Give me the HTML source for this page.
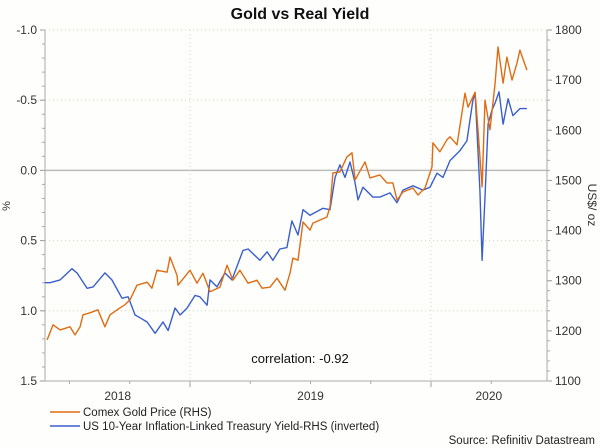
<!DOCTYPE html>
<html><head><meta charset="utf-8"><style>
body{margin:0;background:#fff;}
svg{display:block;font-family:"Liberation Sans",Arial,sans-serif;}
</style></head><body>
<svg id="chart" width="600" height="448" viewBox="0 0 600 448">
<rect width="600" height="448" fill="#fefefc"/>
<text x="300" y="19" text-anchor="middle" font-size="16" font-weight="bold" fill="#111">Gold vs Real Yield</text>
<g id="grid"></g>
<g id="axes"></g>
<g id="series"></g>
<text x="300" y="363" text-anchor="middle" font-size="13" fill="#111">correlation: -0.92</text>
<text transform="translate(10,206) rotate(-90)" text-anchor="middle" font-size="11" fill="#333">%</text>
<text transform="translate(588,205) rotate(90)" text-anchor="middle" font-size="12" fill="#333">US$/ oz</text>
<g>
<line x1="50" y1="412" x2="80" y2="412" stroke="#e06c12" stroke-width="1.5"/>
<text x="83" y="416" font-size="11.5" fill="#222">Comex Gold Price (RHS)</text>
<line x1="50" y1="426" x2="80" y2="426" stroke="#3a5fcd" stroke-width="1.5"/>
<text x="83" y="430" font-size="11.5" fill="#222">US 10-Year Inflation-Linked Treasury Yield-RHS (inverted)</text>
</g>
<text x="595" y="444" text-anchor="end" font-size="11.5" fill="#222">Source: Refinitiv Datastream</text>
</svg>
<script>
const goldDates=[2018.407,2018.432,2018.461,2018.502,2018.523,2018.544,2018.556,2018.585,2018.618,2018.647,2018.668,2018.710,2018.730,2018.751,2018.780,2018.822,2018.842,2018.863,2018.905,2018.917,2018.946,2018.950,2019.000,2019.029,2019.054,2019.083,2019.124,2019.154,2019.178,2019.207,2019.241,2019.278,2019.299,2019.332,2019.361,2019.394,2019.415,2019.427,2019.448,2019.469,2019.498,2019.510,2019.568,2019.581,2019.593,2019.622,2019.651,2019.672,2019.685,2019.726,2019.747,2019.788,2019.817,2019.842,2019.859,2019.884,2019.925,2019.946,2019.975,2020.004,2020.008,2020.037,2020.066,2020.079,2020.108,2020.141,2020.154,2020.183,2020.195,2020.212,2020.224,2020.245,2020.266,2020.278,2020.299,2020.315,2020.336,2020.357,2020.369,2020.398];
const goldValues=[1182,1212,1202,1208,1192,1208,1232,1236,1242,1208,1232,1246,1252,1262,1291,1297,1285,1321,1317,1347,1311,1291,1321,1295,1315,1278,1287,1331,1301,1321,1295,1301,1285,1287,1305,1281,1315,1345,1341,1417,1401,1415,1427,1447,1515,1517,1547,1555,1501,1537,1505,1511,1495,1495,1461,1477,1485,1471,1485,1527,1575,1557,1581,1587,1571,1674,1646,1676,1601,1487,1660,1601,1694,1766,1694,1746,1700,1734,1760,1720];
const yieldDates=[2018.398,2018.419,2018.461,2018.510,2018.531,2018.573,2018.598,2018.647,2018.676,2018.718,2018.743,2018.772,2018.793,2018.822,2018.855,2018.888,2018.909,2018.938,2018.959,2018.988,2019.021,2019.041,2019.071,2019.083,2019.112,2019.145,2019.174,2019.220,2019.241,2019.290,2019.320,2019.344,2019.373,2019.402,2019.423,2019.448,2019.469,2019.498,2019.552,2019.581,2019.602,2019.622,2019.643,2019.664,2019.685,2019.697,2019.718,2019.759,2019.788,2019.830,2019.859,2019.884,2019.925,2019.967,2019.996,2020.025,2020.050,2020.079,2020.120,2020.149,2020.174,2020.183,2020.191,2020.203,2020.212,2020.224,2020.237,2020.253,2020.266,2020.282,2020.299,2020.320,2020.340,2020.369,2020.398];
const yieldValues=[0.80,0.80,0.78,0.70,0.73,0.84,0.83,0.73,0.78,0.91,0.90,1.03,1.05,1.08,1.16,1.08,1.14,0.98,1.03,0.98,0.89,0.90,0.96,0.78,0.83,0.73,0.78,0.57,0.56,0.64,0.58,0.64,0.56,0.55,0.36,0.46,0.28,0.32,0.27,0.28,0.05,-0.04,0.05,-0.06,0.09,0.21,0.12,0.19,0.19,0.16,0.23,0.14,0.11,0.14,0.12,0.02,0.05,-0.07,-0.14,-0.21,-0.50,-0.55,-0.28,0.14,0.64,0.19,-0.33,-0.43,-0.48,-0.56,-0.33,-0.51,-0.39,-0.44,-0.44];
const leftTicks=[-1.0,-0.5,0.0,0.5,1.0,1.5];
const leftTickLabels=["-1.0","-0.5","0.0","0.5","1.0","1.5"];
const rightTicks=[1100,1200,1300,1400,1500,1600,1700,1800];
const yearBounds=[2019,2020];
const yearLabels=["2018","2019","2020"];
const yearLabelPos=[2018.7,2019.5,2020.24];

const NS="http://www.w3.org/2000/svg";
const X0=45,X1=547,Y0=30,Y1=381;
const xScale=t=>190+(t-2019)*241;
const yLeft=v=>Y0+(v-(-1.0))/(2.5)*(Y1-Y0);
const yRight=v=>Y0+(1800-v)/700*(Y1-Y0);
function mk(tag,attrs,parent){const e=document.createElementNS(NS,tag);for(const k in attrs)e.setAttribute(k,attrs[k]);parent.appendChild(e);return e;}
const grid=document.getElementById('grid'),axes=document.getElementById('axes'),series=document.getElementById('series');

leftTicks.forEach((v,i)=>{
  const y=yLeft(v);
  if(v===0){const l=mk('line',{x1:X0,x2:X1,y1:y,y2:y,stroke:'#bbb','stroke-width':1.5},grid);
    
    }
  else if(v>-1&&v<1.5){const l=mk('line',{x1:X0,x2:X1,y1:y,y2:y,stroke:'#c8dcc0','stroke-dasharray':'1 3'},grid);
    
    }
  const tk=mk('line',{x1:X0-5,x2:X0,y1:y,y2:y,stroke:'#999'},axes);
  
  
  const t=mk('text',{x:X0-8,y:y+4,'text-anchor':'end','font-size':12,fill:'#333'},axes);
  t.textContent=leftTickLabels[i];
  
  
});
for(let v=-1.0;v<1.5;v+=0.1){const y=yLeft(v);mk('line',{x1:X0-3,x2:X0,y1:y,y2:y,stroke:'#aaa'},axes);}
if(true){const l=mk('line',{x1:X0,x2:X1,y1:Y0,y2:Y0,stroke:'#c8dcc0','stroke-dasharray':'1 3'},grid);
  
  }
rightTicks.forEach(v=>{
  const y=yRight(v);
  const tk=mk('line',{x1:X1,x2:X1+5,y1:y,y2:y,stroke:'#999'},axes);
  
  
  const t=mk('text',{x:X1+8,y:y+4,'font-size':12,fill:'#333'},axes);
  t.textContent=String(v);
  
  
});
for(let v=1100;v<1800;v+=20){const y=yRight(v);mk('line',{x1:X1,x2:X1+3,y1:y,y2:y,stroke:'#aaa'},axes);}
yearBounds.forEach(t=>{
  const x=xScale(t);
  const l=mk('line',{x1:x,x2:x,y1:Y0,y2:Y1,stroke:'#c8dcc0','stroke-dasharray':'1 3'},grid);
  
  
  mk('line',{x1:x,x2:x,y1:Y1,y2:Y1+6,stroke:'#999'},axes);
});
for(let q=2018.5;q<2020.5;q+=0.25){const x=xScale(q);if(x>X0&&x<X1)mk('line',{x1:x,x2:x,y1:Y1,y2:Y1+3,stroke:'#aaa'},axes);}
yearLabels.forEach((s,i)=>{
  const t=mk('text',{x:xScale(yearLabelPos[i]),y:400,'text-anchor':'middle','font-size':12,fill:'#333'},axes);
  t.textContent=s;
  
  
});
const la=mk('line',{x1:X0,x2:X0,y1:Y0,y2:Y1,stroke:'#aaa'},axes);


const ra=mk('line',{x1:X1,x2:X1,y1:Y0,y2:Y1,stroke:'#aaa'},axes);


const ba=mk('line',{x1:X0,x2:X1,y1:Y1,y2:Y1,stroke:'#aaa'},axes);



const yp=yieldDates.map((d,i)=>xScale(d).toFixed(1)+','+yLeft(yieldValues[i]).toFixed(1)).join(' ');
const yl=mk('polyline',{points:yp,fill:'none',stroke:'#3a5fcd','stroke-width':1.4,'stroke-linejoin':'round'},series);


const gp=goldDates.map((d,i)=>xScale(d).toFixed(1)+','+yRight(goldValues[i]).toFixed(1)).join(' ');
const gl=mk('polyline',{points:gp,fill:'none',stroke:'#e06c12','stroke-width':1.4,'stroke-linejoin':'round'},series);


</script>
</body></html>
